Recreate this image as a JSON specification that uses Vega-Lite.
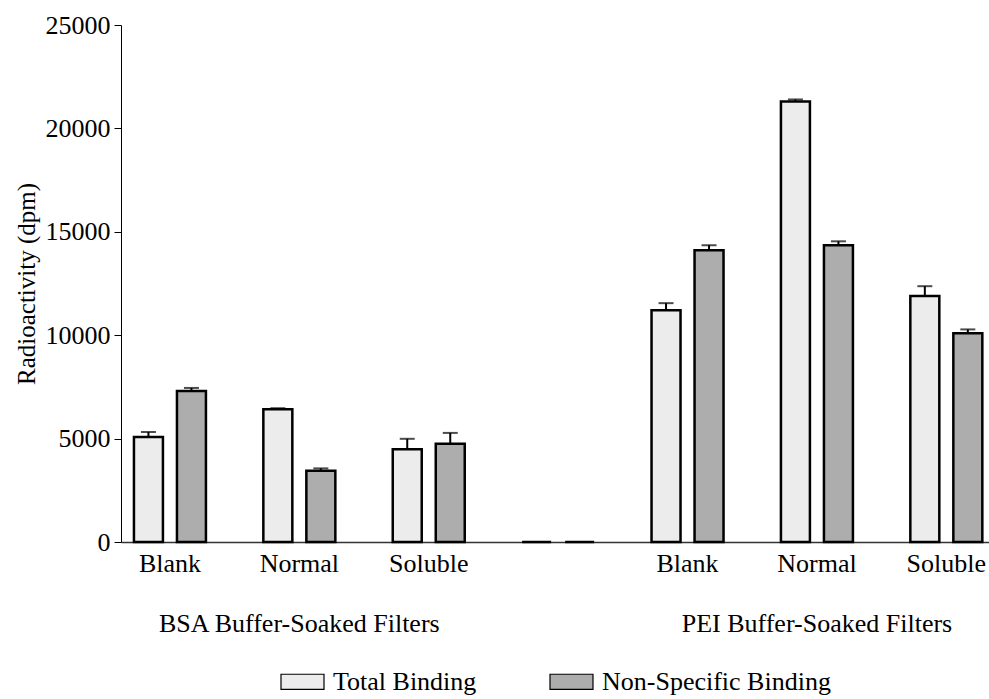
{
  "$schema": "https://vega.github.io/schema/vega-lite/v6.json",
  "autosize": {"type": "none"},
  "padding": {"left": 121, "top": 25, "right": 0, "bottom": 157},
  "width": 868,
  "height": 517,
  "background": "white",
  "config": {
    "view": {"stroke": null},
    "font": "Liberation Serif",
    "axis": {"labelFont": "Liberation Serif", "titleFont": "Liberation Serif", "labelColor": "black", "titleColor": "black", "titleFontWeight": "normal", "grid": false},
    "legend": {"layout": {"bottom": {"anchor": "middle"}}}
  },
  "data": {
    "values": [
      {"cat": "B1", "series": "Total Binding", "value": 5080, "err": 240},
      {"cat": "B1", "series": "Non-Specific Binding", "value": 7300, "err": 150},
      {"cat": "N1", "series": "Total Binding", "value": 6420, "err": 50},
      {"cat": "N1", "series": "Non-Specific Binding", "value": 3440, "err": 120},
      {"cat": "S1", "series": "Total Binding", "value": 4490, "err": 500},
      {"cat": "S1", "series": "Non-Specific Binding", "value": 4745, "err": 530},
      {"cat": "G", "series": "Total Binding", "value": 0, "err": 0},
      {"cat": "G", "series": "Non-Specific Binding", "value": 0, "err": 0},
      {"cat": "B2", "series": "Total Binding", "value": 11210, "err": 340},
      {"cat": "B2", "series": "Non-Specific Binding", "value": 14110, "err": 240},
      {"cat": "N2", "series": "Total Binding", "value": 21300, "err": 100},
      {"cat": "N2", "series": "Non-Specific Binding", "value": 14350, "err": 190},
      {"cat": "S2", "series": "Total Binding", "value": 11890, "err": 480},
      {"cat": "S2", "series": "Non-Specific Binding", "value": 10090, "err": 190}
    ]
  },
  "encoding": {
    "x": {
      "field": "cat",
      "type": "nominal",
      "sort": ["B1", "N1", "S1", "G", "B2", "N2", "S2"],
      "scale": {"paddingInner": 0.4436, "paddingOuter": 0.0758, "align": 0.66},
      "axis": {
        "title": null,
        "ticks": false,
        "labelAngle": 0,
        "labelFontSize": 26,
        "labelPadding": 8,
        "labelLineHeight": 60,
        "labelOverlap": false,
        "labelBound": false,
        "labelFlush": false,
        "labelLimit": 0,
        "domainColor": "#333333",
        "domainWidth": 1.5,
        "labelExpr": "datum.value == 'B1' || datum.value == 'B2' ? 'Blank' : datum.value == 'N1' ? ['Normal', 'BSA Buffer-Soaked Filters'] : datum.value == 'N2' ? ['Normal', 'PEI Buffer-Soaked Filters'] : datum.value == 'S1' || datum.value == 'S2' ? 'Soluble' : ''"
      }
    },
    "xOffset": {
      "field": "series",
      "type": "nominal",
      "sort": ["Total Binding", "Non-Specific Binding"],
      "scale": {"paddingInner": 0.326, "paddingOuter": 0}
    }
  },
  "layer": [
    {
      "mark": {"type": "bar", "stroke": "black", "strokeWidth": 2.5},
      "encoding": {
        "y": {
          "field": "value",
          "type": "quantitative",
          "scale": {"domain": [0, 25000], "nice": false},
          "axis": {
            "title": "Radioactivity (dpm)",
            "titleFontSize": 25,
            "titlePadding": 6,
            "labelFontSize": 26,
            "labelPadding": 4,
            "tickSize": 7,
            "tickColor": "black",
            "domainColor": "black",
            "values": [0, 5000, 10000, 15000, 20000, 25000],
            "format": "d"
          }
        },
        "color": {
          "field": "series",
          "type": "nominal",
          "sort": ["Total Binding", "Non-Specific Binding"],
          "scale": {"domain": ["Total Binding", "Non-Specific Binding"], "range": ["#ececec", "#adadad"]},
          "legend": {
            "title": null,
            "orient": "bottom",
            "direction": "horizontal",
            "offset": 23,
            "labelFont": "Liberation Serif",
            "labelFontSize": 26,
            "labelColor": "black",
            "labelLimit": 400,
            "labelOffset": 8,
            "columnPadding": 70,
            "symbolType": "M-1,-0.35L1,-0.35L1,0.35L-1,0.35Z",
            "symbolSize": 1849,
            "symbolStrokeColor": "black",
            "symbolStrokeWidth": 1.2
          }
        }
      }
    },
    {
      "transform": [{"filter": "datum.err > 0"}, {"calculate": "datum.value + datum.err", "as": "hi"}],
      "mark": {"type": "rule", "color": "black", "strokeWidth": 2},
      "encoding": {
        "y": {"field": "value", "type": "quantitative", "scale": {"domain": [0, 25000], "nice": false}},
        "y2": {"field": "hi"}
      }
    },
    {
      "transform": [{"filter": "datum.err > 0"}, {"calculate": "datum.value + datum.err", "as": "hi"}],
      "mark": {"type": "tick", "color": "black", "size": 15, "thickness": 2, "orient": "horizontal"},
      "encoding": {
        "y": {"field": "hi", "type": "quantitative", "scale": {"domain": [0, 25000], "nice": false}}
      }
    }
  ]
}
